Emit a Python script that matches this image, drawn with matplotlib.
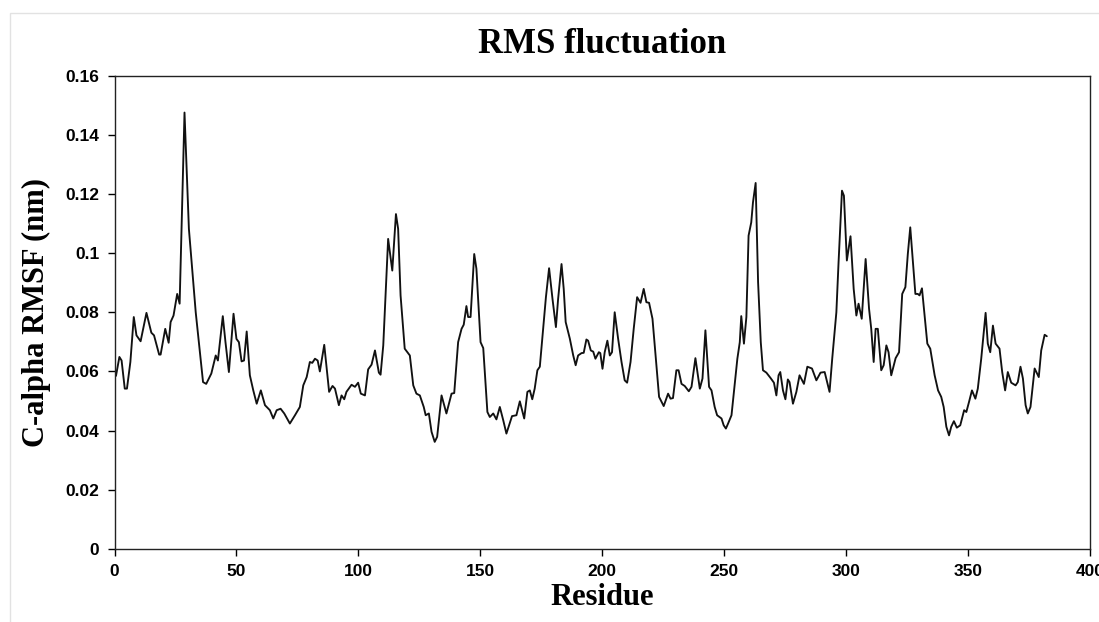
import matplotlib
matplotlib.use("Agg")
import matplotlib.pyplot as plt
from matplotlib.patches import Rectangle

# residue number / C-alpha RMSF (nm)
residue = [0.6, 2.0, 2.9, 4.2, 5.1, 6.5, 7.9, 9.0, 10.7, 13.1, 15.1, 16.2, 18.3, 18.9,
           20.8, 22.2, 23.0, 24.2, 25.7, 26.7, 28.7, 30.5, 33.3, 36.3, 37.6, 39.7, 41.5,
           42.4, 44.4, 45.5, 46.9, 48.8, 50.0, 51.0, 52.1, 53.1, 54.2, 55.5, 56.9, 58.3,
           60.0, 61.7, 63.7, 65.1, 66.5, 68.1, 69.6, 71.9, 74.0, 76.0, 77.4, 78.8, 80.1,
           81.1, 82.2, 83.3, 84.2, 86.0, 88.0, 89.4, 90.4, 92.0, 93.1, 94.2, 95.1, 97.2,
           98.6, 99.9, 101.0, 102.7, 104.0, 105.4, 106.8, 108.4, 109.1, 110.2, 112.2,
           113.9, 115.4, 116.3, 117.3, 119.0, 121.1, 122.5, 123.8, 125.2, 126.8, 127.6,
           128.9, 130.0, 131.3, 132.3, 134.1, 136.1, 138.2, 139.3, 140.9, 142.3, 143.2,
           144.3, 145.0, 146.0, 147.5, 148.4, 150.1, 151.2, 152.9, 153.9, 155.3, 156.6,
           158.0, 159.4, 160.7, 163.0, 164.8, 166.2, 168.0, 169.3, 170.3, 171.3, 172.3,
           173.4, 174.4, 175.4, 176.9, 178.2, 179.6, 181.0, 181.9, 183.3, 184.2, 185.0,
           186.7, 188.1, 189.1, 190.1, 191.5, 192.4, 193.5, 194.2, 195.3, 196.3, 197.2,
           198.6, 199.2, 200.1, 201.0, 202.1, 203.1, 204.0, 205.1, 206.5, 207.9, 209.2,
           210.2, 211.6, 212.9, 214.3, 215.7, 217.0, 218.1, 219.2, 220.6, 222.2, 223.3,
           225.2, 227.0, 228.0, 229.0, 230.4, 231.3, 232.5, 233.8, 235.5, 236.6, 238.2,
           240.0, 241.1, 242.3, 243.8, 244.8, 246.1, 247.1, 248.9, 249.8, 250.7, 251.6,
           253.0, 254.4, 255.4, 256.4, 257.0, 258.1, 259.1, 260.0, 261.1, 261.8, 262.9,
           263.9, 265.0, 265.9, 267.3, 269.0, 270.4, 271.4, 272.3, 273.0, 274.1, 275.1,
           276.1, 276.8, 278.2, 279.6, 280.9, 282.7, 284.1, 286.0, 287.8, 289.5, 291.2,
           293.2, 294.3, 296.0, 296.9, 298.3, 299.1, 300.3, 301.8, 303.1, 304.2, 305.1,
           306.4, 308.0, 309.4, 310.3, 311.3, 312.1, 313.0, 314.4, 315.4, 316.5, 317.4,
           318.5, 320.3, 321.7, 323.0, 324.3, 325.3, 326.3, 327.4, 328.4, 329.4, 330.1,
           331.1, 332.2, 333.3, 334.5, 336.3, 337.7, 339.0, 340.0, 341.1, 342.2, 343.1,
           344.2, 345.4, 346.8, 348.4, 349.3, 350.4, 351.6, 353.0, 354.0, 355.4, 357.2,
           358.1, 359.1, 360.2, 361.3, 362.9, 364.0, 365.2, 366.3, 367.7, 369.5, 370.4,
           371.5, 372.5, 373.6, 374.5, 375.6, 377.3, 379.0, 380.0, 381.4, 382.3]
rmsf = [0.0585, 0.0649, 0.0637, 0.0542, 0.0542, 0.0632, 0.0784, 0.0722, 0.0702, 0.0798,
        0.0731, 0.0722, 0.0657, 0.0657, 0.0744, 0.0697, 0.0767, 0.0789, 0.0862, 0.0829,
        0.1475, 0.1082, 0.0800, 0.0564, 0.0558, 0.0593, 0.0654, 0.0637, 0.0787, 0.0699,
        0.0598, 0.0795, 0.0710, 0.0699, 0.0634, 0.0637, 0.0735, 0.0587, 0.0536, 0.0491,
        0.0536, 0.0486, 0.0469, 0.0441, 0.0469, 0.0474, 0.0458, 0.0424, 0.0452, 0.0480,
        0.0553, 0.0581, 0.0632, 0.0629, 0.0643, 0.0637, 0.0600, 0.0690, 0.0531, 0.0551,
        0.0542, 0.0486, 0.0519, 0.0506, 0.0531, 0.0555, 0.0548, 0.0562, 0.0525, 0.0519,
        0.0607, 0.0623, 0.0671, 0.0596, 0.0589, 0.0688, 0.1048, 0.0941, 0.1132, 0.1082,
        0.0857, 0.0677, 0.0654, 0.0553, 0.0525, 0.0519, 0.0480, 0.0452, 0.0458, 0.0396,
        0.0362, 0.0379, 0.0519, 0.0458, 0.0525, 0.0527, 0.0699, 0.0744, 0.0758, 0.0821,
        0.0784, 0.0784, 0.0997, 0.0947, 0.0699, 0.0679, 0.0463, 0.0446, 0.0458, 0.0438,
        0.0480, 0.0435, 0.0390, 0.0449, 0.0452, 0.0499, 0.0441, 0.0531, 0.0536, 0.0506,
        0.0542, 0.0604, 0.0616, 0.0711, 0.0851, 0.0949, 0.0845, 0.0750, 0.0845, 0.0963,
        0.0879, 0.0767, 0.0711, 0.0654, 0.0621, 0.0654, 0.0662, 0.0663, 0.0708, 0.0704,
        0.0671, 0.0667, 0.0643, 0.0665, 0.0662, 0.0609, 0.0665, 0.0704, 0.0654, 0.0665,
        0.0800, 0.0711, 0.0632, 0.0570, 0.0562, 0.0632, 0.0744, 0.0851, 0.0832, 0.0879,
        0.0834, 0.0832, 0.0778, 0.0621, 0.0514, 0.0483, 0.0525, 0.0508, 0.0510, 0.0604,
        0.0604, 0.0558, 0.0551, 0.0533, 0.0548, 0.0645, 0.0542, 0.0576, 0.0739, 0.0548,
        0.0536, 0.0480, 0.0452, 0.0441, 0.0418, 0.0407, 0.0424, 0.0452, 0.0564, 0.0643,
        0.0699, 0.0787, 0.0694, 0.0784, 0.1059, 0.1104, 0.1171, 0.1237, 0.0902, 0.0699,
        0.0604, 0.0596, 0.0578, 0.0562, 0.0519, 0.0587, 0.0598, 0.0536, 0.0506, 0.0573,
        0.0564, 0.0491, 0.0531, 0.0587, 0.0558, 0.0616, 0.0610, 0.0570, 0.0596, 0.0598,
        0.0531, 0.0643, 0.0800, 0.0969, 0.1211, 0.1194, 0.0975, 0.1057, 0.0879, 0.0789,
        0.0829, 0.0778, 0.0980, 0.0812, 0.0744, 0.0632, 0.0744, 0.0744, 0.0604, 0.0621,
        0.0688, 0.0665, 0.0587, 0.0645, 0.0665, 0.0862, 0.0885, 0.0997, 0.1087, 0.0969,
        0.0862, 0.0862, 0.0857, 0.0881, 0.0789, 0.0694, 0.0677, 0.0587, 0.0536, 0.0514,
        0.0480, 0.0413, 0.0384, 0.0413, 0.0432, 0.0410, 0.0418, 0.0469, 0.0463, 0.0497,
        0.0536, 0.0508, 0.0542, 0.0643, 0.0798, 0.0694, 0.0665, 0.0755, 0.0694, 0.0677,
        0.0598, 0.0536, 0.0598, 0.0562, 0.0553, 0.0564, 0.0616, 0.0576, 0.0486, 0.0458,
        0.0480, 0.0610, 0.0581, 0.0671, 0.0724, 0.0719]

x_ticks = [0, 50, 100, 150, 200, 250, 300, 350, 400]
y_ticks = [0, 0.02, 0.04, 0.06, 0.08, 0.1, 0.12, 0.14, 0.16]
y_ticklabels = ['0', '0.02', '0.04', '0.06', '0.08', '0.1', '0.12', '0.14', '0.16']

serif = 'Liberation Serif'
sans = 'Liberation Sans'

fig = plt.figure(figsize=(10.99, 6.22), dpi=100)
# faint frame around the picture
fig.patches.append(Rectangle((10 / 1099, -0.01), 1.02, 1 - 13 / 622 + 0.01,
                             transform=fig.transFigure, fill=False,
                             edgecolor='#e2e2e2', linewidth=1.0))

ax = fig.add_axes([0.1042, 0.1174, 0.8876, 0.7611])
ax.plot(residue, rmsf, color='#111111', linewidth=1.35,
        solid_joinstyle='round', solid_capstyle='round')

ax.set_xlim(0, 400)
ax.set_ylim(0, 0.16)
ax.set_xticks(x_ticks)
ax.set_xticklabels([str(t) for t in x_ticks])
ax.set_yticks(y_ticks)
ax.set_yticklabels(y_ticklabels)
ax.tick_params(direction='out', length=5, width=1, colors='black', pad=6)
for lab in ax.get_xticklabels() + ax.get_yticklabels():
    lab.set_fontfamily(sans)
    lab.set_fontweight('bold')
    lab.set_fontsize(12.5)
for sp in ax.spines.values():
    sp.set_linewidth(1.0)
    sp.set_color('#222222')

ax.set_title('RMS fluctuation', fontfamily=serif, fontweight='bold', fontsize=25, pad=16)
ax.set_xlabel('Residue', fontfamily=serif, fontweight='bold', fontsize=22, labelpad=3)
ax.set_ylabel('C-alpha RMSF (nm)', fontfamily=serif, fontweight='bold', fontsize=22, labelpad=10)

fig.savefig('out.png', dpi=100)
